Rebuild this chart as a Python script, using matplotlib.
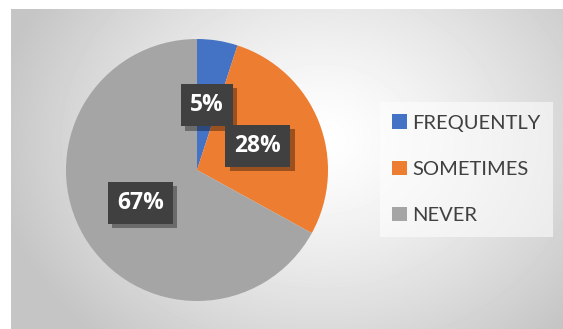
import numpy as np
import matplotlib
matplotlib.use('Agg')
import matplotlib.pyplot as plt
import matplotlib.patheffects as pe

# === Data ===
categories = ['FREQUENTLY', 'SOMETIMES', 'NEVER']
shares = [5, 28, 67]
labels = ['5%', '28%', '67%']
colors = ['#4472C4', '#ED7D31', '#A5A5A5']

W, H = 563, 329
fig = plt.figure(figsize=(W / 100, H / 100), dpi=100)
fig.patch.set_facecolor('white')

# radial gradient background for the chart area
bg = fig.add_axes([11 / W, 0, (W - 11) / W, (H - 9) / H])
yy, xx = np.mgrid[0:320, 0:552]
cx, cy = 310, 130
d = np.sqrt(((xx - cx) / 330.0) ** 2 + ((yy - cy) / 270.0) ** 2)
d = np.clip(d, 0, 1)
shade = 1.0 - 0.23 * d ** 1.3
bg.imshow(shade, cmap='gray', vmin=0, vmax=1, aspect='auto', interpolation='bilinear')
bg.set_axis_off()

# pie
cxp, cyp, r = 197, 159, 131
ax = fig.add_axes([(cxp - r) / W, (cyp - r) / H, 2 * r / W, 2 * r / H])
wedges, _ = ax.pie(shares, colors=colors, startangle=90, counterclock=False,
                   wedgeprops=dict(linewidth=0))
ax.set_xlim(-1, 1)
ax.set_ylim(-1, 1)
ax.set_aspect('equal')
ax.set_axis_off()

# data labels: dark boxes with a shadow
angles = []
start = 90.0
for s in shares:
    span = 360.0 * s / sum(shares)
    angles.append(start - span / 2)
    start -= span
angles[2] = 210.0  # Excel nudged the big label off the mid angle
for lab, a in zip(labels, angles):
    t = ax.text(0.5 * np.cos(np.radians(a)), 0.5 * np.sin(np.radians(a)), lab,
                ha='center', va='center', color='white', fontsize=16.5,
                fontweight='bold', family='Open Sans',
                bbox=dict(boxstyle='square,pad=0.4', facecolor='#404040',
                          edgecolor='none'))
    t.get_bbox_patch().set_path_effects([
        pe.SimplePatchShadow(offset=(3, -3), shadow_rgbFace='#000000', alpha=0.35),
        pe.Normal()])

# legend
leg = fig.legend(wedges, categories, loc='upper left',
                 bbox_to_anchor=(380 / W, 1 - 102 / H),
                 frameon=True, fancybox=False,
                 prop={'family': 'Lato', 'size': 14.5},
                 handlelength=0.7, handleheight=0.7, handletextpad=0.3,
                 labelspacing=1.45, borderpad=0.62, borderaxespad=0)
leg.get_frame().set_facecolor('white')
leg.get_frame().set_alpha(0.55)
leg.get_frame().set_linewidth(0)
for txt in leg.get_texts():
    txt.set_color('#404040')

fig.savefig('out.png', dpi=100)
